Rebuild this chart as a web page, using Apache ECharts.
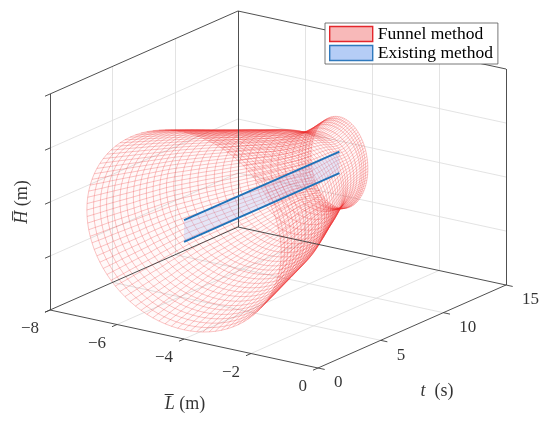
<!DOCTYPE html>
<html>
<head>
<meta charset="utf-8">
<script src="https://cdn.jsdelivr.net/npm/echarts@6/dist/echarts.min.js"></script>
<style>
  html, body { margin: 0; padding: 0; background: #fff; }
  #chart { width: 550px; height: 428px; }
</style>
</head>
<body>
<div id="chart"></div>
<script>
// axis ticks (L, t, H)
const lTicks = [-8, -6, -4, -2, 0]
const tTicks = [0, 5, 10, 15]
const hTicks = [-4, -2, 0, 2, 4]

// funnel: elliptical cross-section around the nominal path at each time sample
const ringT = [0, 0.4, 0.8, 1.2, 1.6, 2, 2.4, 2.8, 3.2, 3.6, 4, 4.4, 4.8, 5.2, 5.6, 6,
  6.4, 6.8, 7.2, 7.6, 8, 8.4, 8.8, 9.2, 9.6, 10, 10.4, 10.8, 11.2, 11.6, 11.8, 12, 12.2, 12.4]
const ringRL = [2.90, 2.85, 2.80, 2.76, 2.71, 2.66, 2.61, 2.56, 2.52, 2.47, 2.42, 2.37,
  2.32, 2.25, 2.16, 2.07, 1.98, 1.89, 1.79, 1.70, 1.61, 1.52, 1.43, 1.33, 1.24, 1.15,
  1.09, 1.03, 0.97, 0.92, 0.90, 0.88, 0.86, 0.85]
const ringRH = [3.66, 3.58, 3.50, 3.42, 3.34, 3.26, 3.18, 3.10, 3.01, 2.93, 2.85, 2.77,
  2.69, 2.61, 2.53, 2.46, 2.38, 2.30, 2.22, 2.14, 2.07, 1.99, 1.91, 1.82, 1.70, 1.59,
  1.51, 1.47, 1.50, 1.55, 1.59, 1.63, 1.66, 1.69]
const pathL = -4
const pathH = 0

// existing method: flat band along the path
const bandT = [0, 12.4]
const bandH = [-0.4, 0.4]

// oblique view of the 3-D box onto the page plane
const view = { ox: 50, oy: 310, lx: 33.5, ly: 7.25, tx: 12.533, ty: -5.533, hy: -27 }
const SEG = 96

function proj(L, t, H) {
  const l = L - lTicks[0]
  const h = H - hTicks[0]
  return [view.ox + l * view.lx + t * view.tx, view.oy + l * view.ly + t * view.ty + h * view.hy]
}

const L0 = lTicks[0], L1 = lTicks[lTicks.length - 1]
const T0 = tTicks[0], T1 = tTicks[tTicks.length - 1]
const H0 = hTicks[0], H1 = hTicks[hTicks.length - 1]

function ringPoint(i, k) {
  const a = (2 * Math.PI * k) / SEG
  return proj(pathL + ringRL[i] * Math.cos(a), ringT[i], pathH + ringRH[i] * Math.sin(a))
}

// back-wall and floor grid
const gridLines = []
lTicks.slice(1, -1).forEach((l) => {
  gridLines.push({ coords: [proj(l, T1, H0), proj(l, T1, H1)] })
  gridLines.push({ coords: [proj(l, T0, H0), proj(l, T1, H0)] })
})
tTicks.slice(1, -1).forEach((t) => {
  gridLines.push({ coords: [proj(L0, t, H0), proj(L0, t, H1)] })
  gridLines.push({ coords: [proj(L0, t, H0), proj(L1, t, H0)] })
})
hTicks.slice(1, -1).forEach((h) => {
  gridLines.push({ coords: [proj(L0, T0, h), proj(L0, T1, h)] })
  gridLines.push({ coords: [proj(L0, T1, h), proj(L1, T1, h)] })
})

// box edges
const boxLines = [
  [proj(L0, T0, H0), proj(L0, T0, H1)],
  [proj(L0, T0, H1), proj(L0, T1, H1)],
  [proj(L0, T1, H1), proj(L1, T1, H1)],
  [proj(L0, T1, H0), proj(L0, T1, H1)],
  [proj(L1, T1, H0), proj(L1, T1, H1)],
  [proj(L0, T0, H0), proj(L1, T0, H0)],
  [proj(L1, T0, H0), proj(L1, T1, H0)],
  [proj(L0, T0, H0), proj(L0, T1, H0)],
  [proj(L0, T1, H0), proj(L1, T1, H0)],
].map((c) => ({ coords: c }))

// tick marks
const tickLines = []
lTicks.forEach((l) => tickLines.push({ coords: [proj(l, T0, H0), proj(l, T0 - 0.4, H0)] }))
tTicks.forEach((t) => tickLines.push({ coords: [proj(L1, t, H0), proj(L1 + 0.2, t, H0)] }))
hTicks.forEach((h) => tickLines.push({ coords: [proj(L0, T0, h), proj(L0, T0 - 0.4, h)] }))

// funnel mesh lines
const meshLines = []
ringT.forEach((t, i) => {
  const c = []
  for (let k = 0; k <= SEG; k++) c.push(ringPoint(i, k))
  meshLines.push({ coords: c })
})
for (let k = 0; k < SEG; k++) {
  meshLines.push({ coords: ringT.map((t, i) => ringPoint(i, k)) })
}

const faceItems = ringT.slice(0, -1).map((t, i) => [i])

const serif = "'Liberation Serif', 'Times New Roman', serif"
const labelBase = { show: true, color: '#000', fontFamily: serif, fontSize: 17 }

let myChart = echarts.init(document.getElementById('chart'))
let option = {
  animation: false,
  backgroundColor: '#fff',
  grid: { left: 0, right: 0, top: 0, bottom: 0 },
  xAxis: { type: 'value', min: 0, max: 550, show: false },
  yAxis: { type: 'value', min: 0, max: 428, inverse: true, show: false },
  legend: {
    orient: 'vertical',
    left: 325,
    top: 23,
    padding: [2, 5, 2, 4],
    itemGap: 1,
    itemWidth: 43,
    itemHeight: 15,
    backgroundColor: '#fff',
    borderColor: '#555',
    borderWidth: 0.8,
    borderRadius: 0,
    selectedMode: false,
    textStyle: { fontFamily: serif, fontSize: 17.5, color: '#000' },
    data: [
      { name: 'Funnel method', icon: 'rect', itemStyle: { color: '#f8b9b9', borderColor: '#e3262b', borderWidth: 1.4 } },
      { name: 'Existing method', icon: 'rect', itemStyle: { color: '#b5cdf6', borderColor: '#2f79bd', borderWidth: 1.4 } },
    ],
  },
  series: [
    {
      type: 'lines',
      coordinateSystem: 'cartesian2d',
      silent: true,
      lineStyle: { color: '#dcdcdc', width: 0.8, opacity: 1 },
      data: gridLines,
    },
    {
      name: 'Funnel method',
      type: 'custom',
      silent: true,
      itemStyle: { color: '#f8b9b9' },
      data: faceItems,
      renderItem: (params, api) => {
        const i = api.value(0)
        const children = []
        for (let k = 0; k < SEG; k++) {
          children.push({
            type: 'polygon',
            shape: {
              points: [ringPoint(i, k), ringPoint(i, k + 1), ringPoint(i + 1, k + 1), ringPoint(i + 1, k)].map((p) => api.coord(p)),
            },
            style: { fill: 'rgba(255,70,70,0.03)', stroke: null },
          })
        }
        return { type: 'group', children }
      },
    },
    {
      type: 'lines',
      coordinateSystem: 'cartesian2d',
      polyline: true,
      silent: true,
      lineStyle: { color: 'rgba(238,45,45,0.42)', width: 0.65, opacity: 1 },
      data: meshLines,
    },
    {
      name: 'Existing method',
      type: 'custom',
      silent: true,
      itemStyle: { color: '#b5cdf6' },
      data: [[0]],
      renderItem: (params, api) => ({
        type: 'polygon',
        shape: {
          points: [
            proj(pathL, bandT[0], bandH[0]), proj(pathL, bandT[1], bandH[0]),
            proj(pathL, bandT[1], bandH[1]), proj(pathL, bandT[0], bandH[1]),
          ].map((p) => api.coord(p)),
        },
        style: { fill: 'rgba(160,180,240,0.28)' },
      }),
    },
    ...bandH.map((h) => ({
      type: 'line',
      silent: true,
      symbol: 'none',
      lineStyle: { color: '#1f72b8', width: 1.9 },
      data: bandT.map((t) => proj(pathL, t, h)),
    })),
    {
      type: 'lines',
      coordinateSystem: 'cartesian2d',
      silent: true,
      lineStyle: { color: '#3c3c3c', width: 0.9, opacity: 1 },
      data: boxLines.concat(tickLines),
    },
    {
      type: 'scatter',
      silent: true,
      symbolSize: 0,
      label: { ...labelBase, position: [-11, 19], align: 'right', verticalAlign: 'middle', formatter: (p) => p.data[2] },
      data: lTicks.map((l) => [...proj(l, T0, H0), l < 0 ? '\u2212' + Math.abs(l) : String(l)]),
    },
    {
      type: 'scatter',
      silent: true,
      symbolSize: 0,
      label: { ...labelBase, position: [16, 15], align: 'left', verticalAlign: 'middle', formatter: (p) => p.data[2] },
      data: tTicks.map((t) => [...proj(L1, t, H0), String(t)]),
    },
    {
      type: 'scatter',
      silent: true,
      symbolSize: 0,
      data: [
        {
          value: proj((L0 + L1) / 2, T0, H0),
          label: {
            ...labelBase, fontSize: 18, position: [1, 65], align: 'center', verticalAlign: 'middle',
            formatter: '{i|L\u0305} (m)', rich: { i: { fontStyle: 'italic', fontFamily: serif, fontSize: 18 } },
          },
        },
        {
          value: proj(L1, (T0 + T1) / 2, H0),
          label: {
            ...labelBase, fontSize: 18, position: [25, 65], align: 'center', verticalAlign: 'middle',
            formatter: '{i|t}  (s)', rich: { i: { fontStyle: 'italic', fontFamily: serif, fontSize: 18 } },
          },
        },
        {
          value: proj(L0, T0, (H0 + H1) / 2),
          label: {
            ...labelBase, fontSize: 18, position: [-28, 0], align: 'center', verticalAlign: 'middle', rotate: 90,
            formatter: '{i|H\u0305} (m)', rich: { i: { fontStyle: 'italic', fontFamily: serif, fontSize: 18 } },
          },
        },
      ],
    },
  ],
}
myChart.setOption(option)
</script>
</body>
</html>
